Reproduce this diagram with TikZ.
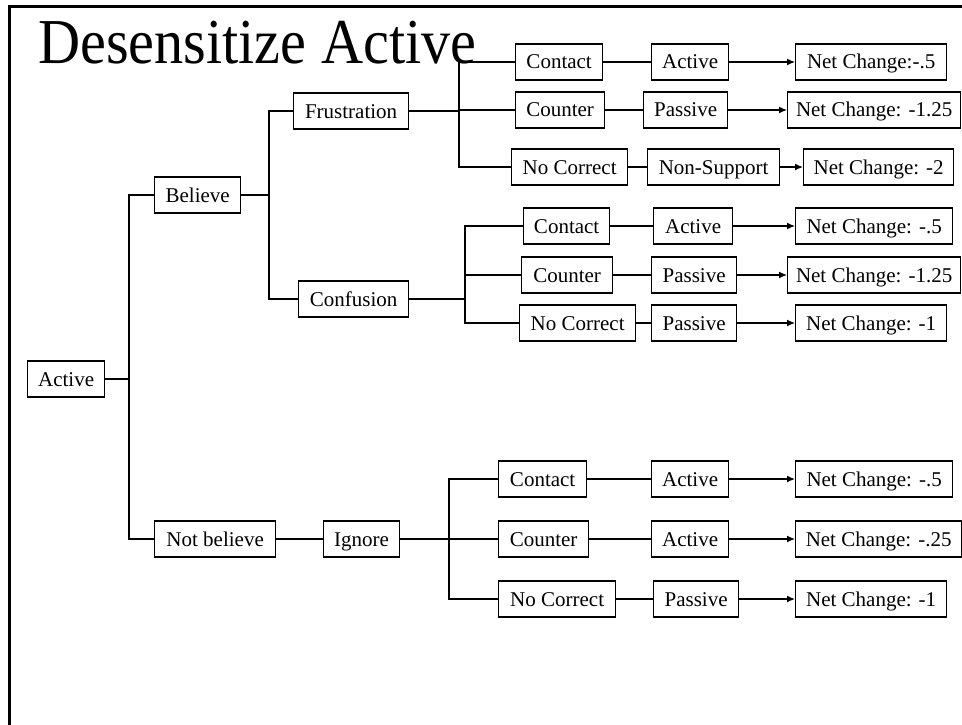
\documentclass[tikz,border=0pt]{standalone}
\usepackage{fontspec}
\setmainfont{Liberation Serif}
\usetikzlibrary{arrows.meta}
\begin{document}
\begin{tikzpicture}[x=1pt, y=-1pt,
  box/.style={draw, line width=1.3pt, anchor=west, minimum height=36pt,
    inner xsep=0pt, inner ysep=0pt, text height=16pt, text depth=2pt,
    font=\fontsize{21}{24}\selectfont},
  link/.style={line width=1.3pt},
  tip/.style={line width=1.3pt, -{Latex[length=8pt,width=7pt]}}]
\useasboundingbox (0,0) rectangle (962,725);

% slide frame (top and left edges)
\draw[line width=3pt] (9.5,725) -- (9.5,6.5) -- (962,6.5);

% title
\node[anchor=base west, inner sep=0pt, font=\fontsize{64}{64}\selectfont]
  (title) at (38,64) {\scalebox{0.91}[1]{Desensitize Active}};

% left part of the tree
\node[box, minimum width=77pt]  (root)  at (27,379)  {Active};
\node[box, minimum width=86pt]  (bel)   at (154,195) {Believe};
\node[box, minimum width=121pt] (nbel)  at (154,539) {Not believe};
\node[box, minimum width=76pt]  (ign)   at (323,539) {Ignore};
\node[box, minimum width=115pt] (fru)   at (293,111) {Frustration};
\node[box, minimum width=110pt] (conf)  at (298,299) {Confusion};

% Frustration branch
\node[box, minimum width=87pt]  (c1)  at (515,62)  {Contact};
\node[box, minimum width=77pt]  (a1)  at (651,62)  {Active};
\node[box, minimum width=151pt] (n1)  at (795,62)  {Net Change:-.5};
\node[box, minimum width=89pt]  (k1)  at (515,110) {Counter};
\node[box, minimum width=84pt]  (p1)  at (643,110) {Passive};
\node[box, minimum width=173pt] (n2)  at (787,110) {Net Change: -1.25};
\node[box, minimum width=116pt] (nc1) at (511,167) {No Correct};
\node[box, minimum width=132pt] (ns1) at (647,167) {Non-Support};
\node[box, minimum width=150pt] (n3)  at (803,167) {Net Change: -2};

% Confusion branch
\node[box, minimum width=86pt]  (c2)  at (523,226) {Contact};
\node[box, minimum width=79pt]  (a2)  at (653,226) {Active};
\node[box, minimum width=157pt] (n4)  at (795,226) {Net Change: -.5};
\node[box, minimum width=91pt]  (k2)  at (521,275) {Counter};
\node[box, minimum width=85pt]  (p2)  at (651,275) {Passive};
\node[box, minimum width=173pt] (n5)  at (787,275) {Net Change: -1.25};
\node[box, minimum width=116pt] (nc2) at (519,323) {No Correct};
\node[box, minimum width=85pt]  (p3)  at (651,323) {Passive};
\node[box, minimum width=151pt] (n6)  at (795,323) {Net Change: -1};

% Ignore branch
\node[box, minimum width=88pt]  (c3)  at (498,479) {Contact};
\node[box, minimum width=77pt]  (a3)  at (651,479) {Active};
\node[box, minimum width=157pt] (n7)  at (795,479) {Net Change: -.5};
\node[box, minimum width=90pt]  (k3)  at (498,539) {Counter};
\node[box, minimum width=77pt]  (a4)  at (651,539) {Active};
\node[box, minimum width=166pt] (n8)  at (795,539) {Net Change: -.25};
\node[box, minimum width=117pt] (nc3) at (498,599) {No Correct};
\node[box, minimum width=85pt]  (p4)  at (653,599) {Passive};
\node[box, minimum width=151pt] (n9)  at (795,599) {Net Change: -1};

% junction columns
\coordinate (jr) at (129,0);
\coordinate (jb) at (269,0);
\coordinate (jf) at (459,0);
\coordinate (jc) at (465,0);
\coordinate (ji) at (449,0);

% elbow connectors
\draw[link] (root.east) -- (jr |- root.east);
\draw[link] (bel.west) -- (jr |- bel.west) -- (jr |- nbel.west) -- (nbel.west);

\draw[link] (bel.east) -- (jb |- bel.east);
\draw[link] (fru.west) -- (jb |- fru.west) -- (jb |- conf.west) -- (conf.west);

\draw[link] (fru.east) -- (jf |- fru.east);
\draw[link] (c1.west) -- (jf |- c1.west) -- (jf |- nc1.west) -- (nc1.west);
\draw[link] (jf |- k1.west) -- (k1.west);

\draw[link] (conf.east) -- (jc |- conf.east);
\draw[link] (c2.west) -- (jc |- c2.west) -- (jc |- nc2.west) -- (nc2.west);
\draw[link] (jc |- k2.west) -- (k2.west);

\draw[link] (nbel) -- (ign);
\draw[link] (ign.east) -- (ji |- ign.east);
\draw[link] (c3.west) -- (ji |- c3.west) -- (ji |- nc3.west) -- (nc3.west);
\draw[link] (ji |- k3.west) -- (k3.west);

% straight rows
\foreach \s/\m/\e in {c1/a1/n1, k1/p1/n2, nc1/ns1/n3,
                      c2/a2/n4, k2/p2/n5, nc2/p3/n6,
                      c3/a3/n7, k3/a4/n8, nc3/p4/n9} {
  \draw[link] (\s) -- (\m);
  \draw[tip] (\m) -- (\e);
}
\end{tikzpicture}
\end{document}
